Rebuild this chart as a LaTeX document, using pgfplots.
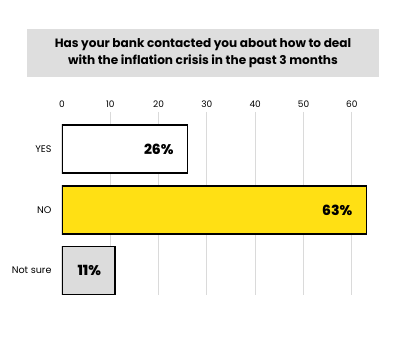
\documentclass[border=0pt]{standalone}
\usepackage{pgfplots}
\pgfplotsset{compat=1.18}
\usepackage{fontspec}
\setmainfont{Poppins}
\newfontfamily\heavyfont{Poppins ExtraBold}
\definecolor{barYellow}{HTML}{FFE014}
\definecolor{barGray}{HTML}{DCDCDC}
\definecolor{titleGray}{HTML}{DEDEDE}
\definecolor{gridGray}{HTML}{DADADA}
\begin{document}
\begin{tikzpicture}[x=1pt,y=1pt]
\path (0,0) rectangle (413,352);
\fill[titleGray] (27,275) rectangle (379,323);
\node[align=center,font=\fontsize{12.1}{17}\selectfont\bfseries] at (203,299)
  {Has your bank contacted you about how to deal\\with the inflation crisis in the past 3 months};
\begin{axis}[
  at={(62pt,57pt)}, anchor=south west,
  scale only axis, width=314pt, height=183pt,
  xmin=0, xmax=65, ymin=-0.61, ymax=2.4, y dir=reverse,
  xbar, bar width=48pt, bar shift=0pt,
  axis line style={draw=none},
  major tick length=0pt,
  xtick={10,20,30,40,50,60},
  extra x ticks={0}, extra x tick style={grid=none},
  xmajorgrids, major grid style={gridGray, line width=1pt},
  xticklabel pos=upper,
  xticklabel style={font=\fontsize{9}{10}\selectfont, yshift=1pt},
  /pgf/number format/assume math mode=true,
  ytick={0,1,2}, yticklabels={YES,NO,Not sure},
  yticklabel style={font=\fontsize{9.6}{11}\selectfont, xshift=-7pt},
  nodes near coords={\pgfmathprintnumber{\pgfplotspointmeta}\%},
  nodes near coords style={anchor=east, xshift=-10pt, font=\fontsize{14}{16}\selectfont\heavyfont, text=black},
  every axis plot/.append style={draw=black, line width=1.5pt},
]
\addplot[fill=white] coordinates {(26,0)};
\addplot[fill=barYellow] coordinates {(63,1)};
\addplot[fill=barGray] coordinates {(11,2)};
\end{axis}
\end{tikzpicture}
\end{document}
